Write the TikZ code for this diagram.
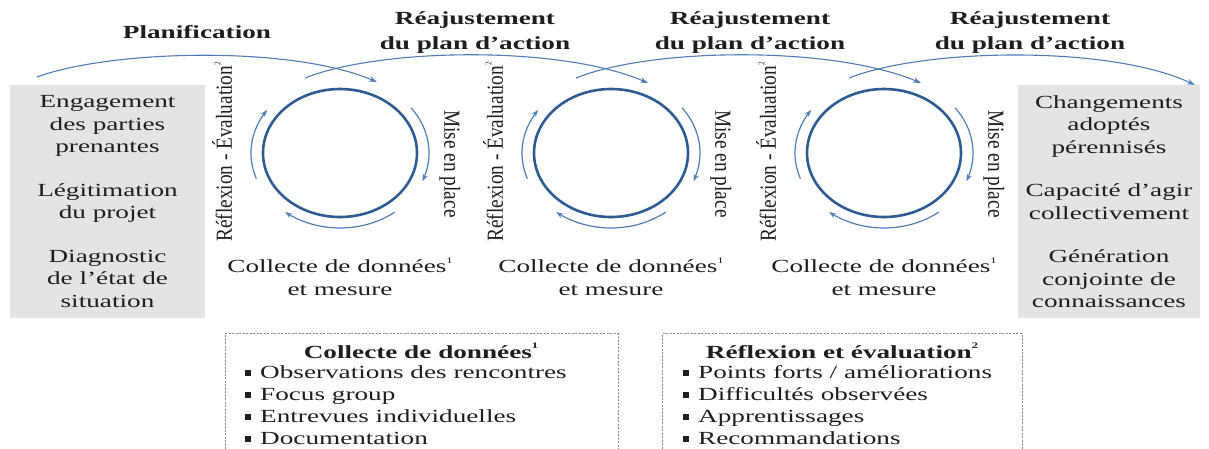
\documentclass[tikz,border=0pt]{standalone}
\usepackage{fontspec}
\setmainfont{Liberation Serif}[FakeStretch=1.47]
\newfontfamily\vfont{Liberation Serif}[FakeStretch=0.84]
\usetikzlibrary{shapes.geometric,arrows.meta}
\definecolor{ringblue}{HTML}{2E5C92}
\definecolor{arcblue}{HTML}{4F7DB5}
\definecolor{boxgray}{HTML}{E4E4E4}
\definecolor{dotcol}{HTML}{8E8672}
\definecolor{txt}{HTML}{1E1E1E}
\newcommand{\supone}{\raisebox{0.5em}{\fontsize{8.5}{8.5}\selectfont 1}}
\newcommand{\suptwo}{\raisebox{0.5em}{\fontsize{8.5}{8.5}\selectfont 2}}
\newcommand{\bulsq}{\raisebox{2.5pt}{\rule{5.5pt}{5.5pt}}\hspace{9.5pt}}
\begin{document}
\begin{tikzpicture}[x=1pt,y=-1pt,
  every node/.style={text=txt, font=\fontsize{18.5}{22.5}\selectfont, inner sep=0pt},
  ring/.style={ellipse, draw=ringblue, line width=2.6pt, minimum width=154pt, minimum height=128pt},
  cycarrow/.style={draw=arcblue, line width=1.2pt, -{Stealth[length=7pt,width=5pt]}},
  toparc/.style={draw=arcblue, line width=1.1pt, -{Stealth[length=8pt,width=5.5pt]}},
  graybox/.style={fill=boxgray, minimum width=195pt, minimum height=233pt, align=center},
  title/.style={font=\bfseries\fontsize{18.5}{25}\selectfont, align=center},
  vlabel/.style={font=\vfont\fontsize{23}{23}\selectfont},
  dotbox/.style={draw=dotcol, line width=1pt, dash pattern=on 2pt off 1.5pt, minimum height=140pt, anchor=north},
  item/.style={anchor=base west},
  head/.style={font=\bfseries\fontsize{18.5}{22.5}\selectfont, anchor=base},
]
\useasboundingbox (0,0) rectangle (1209,448);

% side boxes
\node[graybox] (left) at (107.5,201.5) {Engagement\\des parties\\prenantes\\[21pt]Légitimation\\du projet\\[21pt]Diagnostic\\de l’état de\\situation};
\node[graybox, minimum width=182pt] (right) at (1109,201.5) {Changements\\adoptés\\pérennisés\\[21pt]Capacité d’agir\\collectivement\\[21pt]Génération\\conjointe de\\connaissances};

% cycles
\foreach \cx/\n in {340/1,611/2,884/3} {
  \node[ring] (c\n) at (\cx,153) {};
  \draw[cycarrow] plot[domain=160:215,samples=30,smooth] ({\cx+89*cos(\x)},{153+75*sin(\x)});
  \draw[cycarrow] plot[domain=-37:22,samples=30,smooth] ({\cx+89*cos(\x)},{153+75*sin(\x)});
  \draw[cycarrow] plot[domain=52:128,samples=30,smooth] ({\cx+89*cos(\x)},{153+75*sin(\x)});
  \node[vlabel, rotate=90] (r\n) at (\cx-118,152) {Réflexion - Évaluation\suptwo};
  \node[vlabel, rotate=-90] (m\n) at (\cx+110,164) {Mise en place};
  \node[align=center] (k\n) at (\cx,276.5) {Collecte de données\supone\\et mesure};
}

% top arcs
\coordinate (a1s) at (37,77);   \coordinate (a1e) at (377,82);
\coordinate (a2s) at (305,78);  \coordinate (a2e) at (648,83);
\coordinate (a3s) at (576,78);  \coordinate (a3e) at (921,83);
\coordinate (a4s) at (849,78);  \coordinate (a4e) at (1195,85);
\draw[toparc] (a1s) .. controls (110,50) and (290,45) .. (a1e);
\draw[toparc] (a2s) .. controls (380,48) and (560,45) .. (a2e);
\draw[toparc] (a3s) .. controls (650,48) and (830,45) .. (a3e);
\draw[toparc] (a4s) .. controls (925,48) and (1110,45) .. (a4e);

% top labels
\node[title] (t1) at (197,32) {Planification};
\node[title] (t2) at (475,33) {Réajustement\\du plan d’action};
\node[title] (t3) at (750,33) {Réajustement\\du plan d’action};
\node[title] (t4) at (1030,33) {Réajustement\\du plan d’action};

% bottom boxes
\node[dotbox, minimum width=393pt] (b1) at (421.5,333) {};
\node[dotbox, minimum width=360pt] (b2) at (842,333) {};
\node[head] (h1) at (421,358) {Collecte de données\supone};
\node[head] (h2) at (842,358) {Réflexion et évaluation\suptwo};
\node[item] (i11) at (245,378) {\bulsq Observations des rencontres};
\node[item] (i12) at (245,400) {\bulsq Focus group};
\node[item] (i13) at (245,422) {\bulsq Entrevues individuelles};
\node[item] (i14) at (245,444) {\bulsq Documentation};
\node[item] (i21) at (683,378) {\bulsq Points forts / améliorations};
\node[item] (i22) at (683,400) {\bulsq Difficultés observées};
\node[item] (i23) at (683,422) {\bulsq Apprentissages};
\node[item] (i24) at (683,444) {\bulsq Recommandations};
\end{tikzpicture}
\end{document}
